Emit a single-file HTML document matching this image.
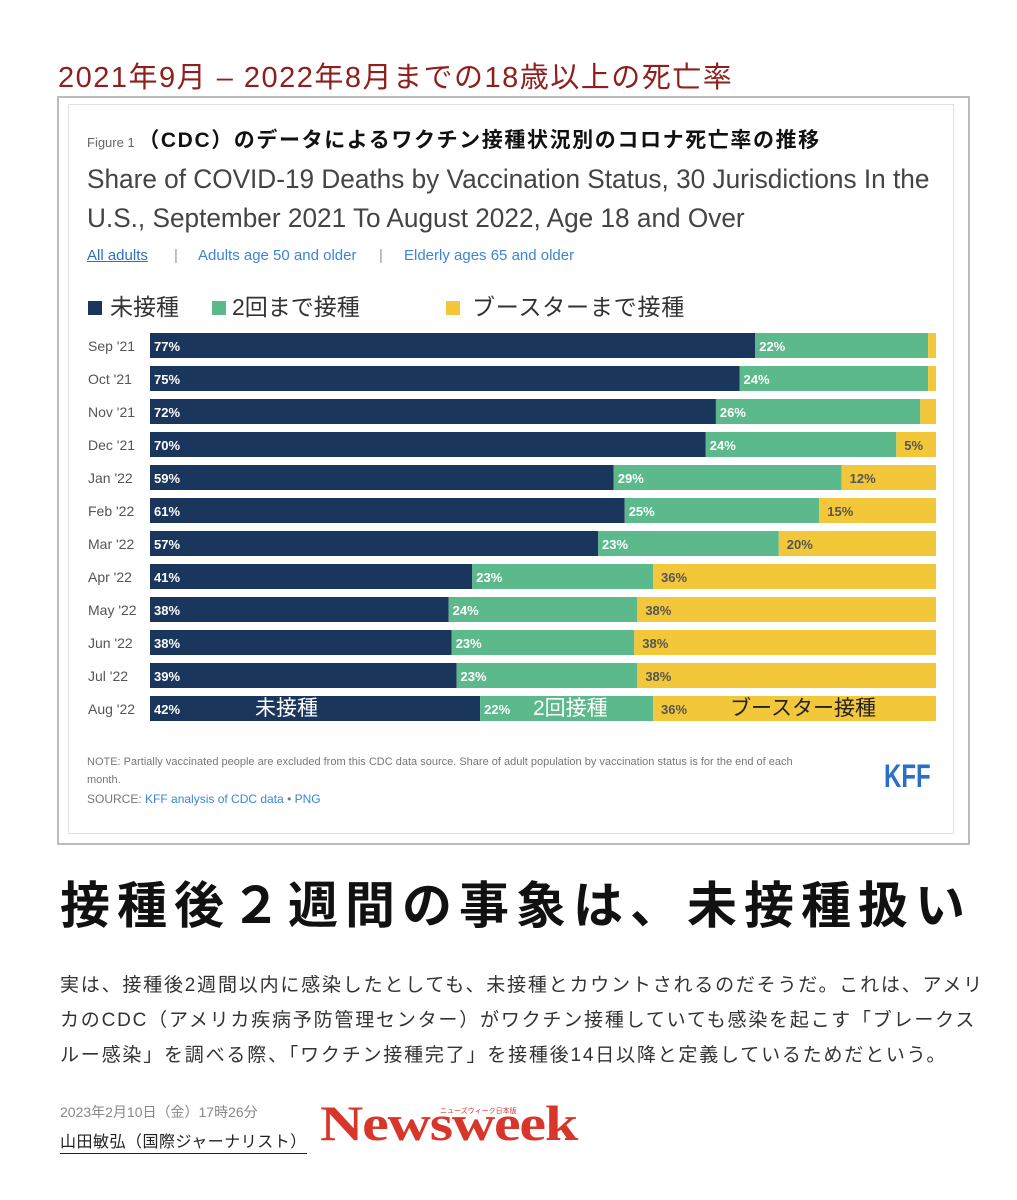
<!DOCTYPE html>
<html><head><meta charset="utf-8">
<style>
body{margin:0;width:1017px;height:1200px;background:#fff;position:relative;overflow:hidden;font-family:"Liberation Sans","Noto Sans CJK JP",sans-serif}
.a{position:absolute;white-space:nowrap}
</style></head><body>
<div class="a" style="left:58px;top:54px;font-size:29px;color:#8e1f1c;letter-spacing:1.5px">2021年9月 – 2022年8月までの18歳以上の死亡率</div>
<div class="a" style="left:57px;top:96px;width:909px;height:745px;border:2px solid #bbb"></div>
<div class="a" style="left:68px;top:104px;width:884px;height:728px;border:1px solid #e2e2e2"></div>
<div class="a" style="left:87px;top:124px;font-size:21px;font-weight:bold;color:#111;letter-spacing:1.6px"><span style="font-size:13px;font-weight:normal;color:#666;letter-spacing:0">Figure 1 </span>（CDC）のデータによるワクチン接種状況別のコロナ死亡率の推移</div>
<div class="a" style="left:87px;top:160px;font-size:27px;color:#444;line-height:39px;transform:scaleX(0.97);transform-origin:left">Share of COVID-19 Deaths by Vaccination Status, 30 Jurisdictions In the<br>U.S., September 2021 To August 2022, Age 18 and Over</div>
<div class="a" style="left:87px;top:247px;font-size:15px;color:#2a6fc9;text-decoration:underline">All adults</div>
<div class="a" style="left:174px;top:247px;font-size:15px;color:#999">|</div>
<div class="a" style="left:198px;top:247px;font-size:15px;color:#3d84d6">Adults age 50 and older</div>
<div class="a" style="left:379px;top:247px;font-size:15px;color:#999">|</div>
<div class="a" style="left:404px;top:247px;font-size:15px;color:#3d84d6">Elderly ages 65 and older</div>
<div class="a" style="left:88px;top:288px;font-size:23px;color:#333"><span style="display:inline-block;width:14px;height:14px;background:#1b365d;margin-right:8px"></span>未接種</div>
<div class="a" style="left:212px;top:288px;font-size:23px;color:#333"><span style="display:inline-block;width:14px;height:14px;background:#5bb98b;margin-right:6px"></span>2回まで接種</div>
<div class="a" style="left:446px;top:288px;font-size:23px;color:#333;letter-spacing:0.8px"><span style="display:inline-block;width:14px;height:14px;background:#f2c73a;margin-right:12px"></span>ブースターまで接種</div>
<svg id="chart" class="a" style="left:0;top:0" width="1017" height="760"></svg>
<div class="a" style="left:87px;top:753px;font-size:11px;color:#777;line-height:18px">NOTE: Partially vaccinated people are excluded from this CDC data source. Share of adult population by vaccination status is for the end of each<br>month.</div>
<div class="a" style="left:87px;top:792px;font-size:12px;color:#777">SOURCE: <span style="color:#3d84d6">KFF analysis of CDC data</span> • <span style="color:#3d84d6">PNG</span></div>
<div class="a" style="left:884px;top:758px;font-size:32px;font-weight:bold;color:#2a6fc9;transform:scaleX(0.75);transform-origin:left">KFF</div>
<div class="a" style="left:60px;top:866px;font-size:50px;font-weight:bold;color:#111;letter-spacing:7px">接種後２週間の事象は、未接種扱い</div>
<div class="a" style="left:60px;top:968px;font-size:19px;color:#333;line-height:35px;letter-spacing:1.8px">実は、接種後2週間以内に感染したとしても、未接種とカウントされるのだそうだ。これは、アメリ<br>カのCDC（アメリカ疾病予防管理センター）がワクチン接種していても感染を起こす「ブレークス<br>ルー感染」を調べる際、「ワクチン接種完了」を接種後14日以降と定義しているためだという。</div>
<div class="a" style="left:60px;top:1102px;font-size:14px;color:#888">2023年2月10日（金）17時26分</div>
<div class="a" style="left:60px;top:1128px;font-size:16px;color:#222;border-bottom:1px solid #222;padding-bottom:1px;letter-spacing:0.5px">山田敏弘（国際ジャーナリスト）</div>
<div class="a" style="left:320px;top:1094px;font-family:'Liberation Serif',serif;font-weight:bold;font-size:50px;color:#d9362b;letter-spacing:-1px;transform:scaleX(1.2);transform-origin:left">Newsweek</div>
<div class="a" style="left:440px;top:1106px;font-size:7px;color:#d9362b">ニューズウィーク日本版</div>
<script>
const months=["Sep '21","Oct '21","Nov '21","Dec '21","Jan '22","Feb '22","Mar '22","Apr '22","May '22","Jun '22","Jul '22","Aug '22"];
const unvax=[77,75,72,70,59,61,57,41,38,38,39,42];
const twoDose=[22,24,26,24,29,25,23,23,24,23,23,22];
const booster=[1,1,2,5,12,15,20,36,38,38,38,36];
const NS="http://www.w3.org/2000/svg";
const svg=document.getElementById('chart');
const x0=150,W=786,y0=333,step=33,bh=25;
const colors=["#1b365d","#5bb98b","#f2c73a"];
const txtCol=["#fff","#fff","#555"];
function mk(t,a){const e=document.createElementNS(NS,t);for(const k in a)e.setAttribute(k,a[k]);svg.appendChild(e);return e;}
months.forEach((m,i)=>{
  const vals=[unvax[i],twoDose[i],booster[i]];
  const tot=vals[0]+vals[1]+vals[2];
  const y=y0+i*step;
  const lab=mk('text',{x:88,y:y+18,'font-size':14,fill:'#555'});
  
  
  lab.textContent=m;
  let cx=x0;
  vals.forEach((v,j)=>{
    const w=v/tot*W;
    const r=mk('rect',{x:cx,y:y,width:w,height:bh,fill:colors[j]});
    
    
    if(v>=3){
      const t=mk('text',{x:cx+(j==2?8:4),y:y+18,'font-size':13,'font-weight':'bold',fill:txtCol[j]});
      
      
      t.textContent=v+'%';
    }
    cx+=w;
  });
});
const ay=y0+11*step+19;
[["未接種",255,"#fff"],["2回接種",533,"#fff"],["ブースター接種",730,"#222"]].forEach(a=>{
  const t=mk('text',{x:a[1],y:ay,'font-size':21,fill:a[2]});
  
  
  t.textContent=a[0];
});
</script>
</body></html>
